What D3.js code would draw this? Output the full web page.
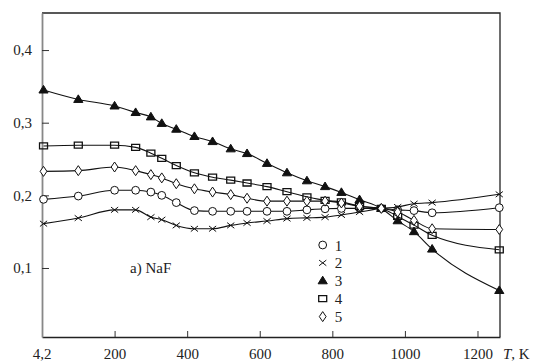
<!DOCTYPE html>
<html>
<head>
<meta charset="utf-8">
<script src="https://cdn.jsdelivr.net/npm/d3@7"></script>
<style>
  body { margin: 0; background: #fff; }
  text { font-family: "Liberation Serif", "Times New Roman", serif; fill: #222; }
</style>
</head>
<body>
<div id="chart"></div>
<script>
// temperature points (K)
const temps = [4.2, 100, 200, 258, 300, 330, 370, 420, 470, 520, 565, 620, 675, 730, 780, 825, 875, 935, 980, 1025, 1075, 1260]

// values, one array per curve
const series1 = [0.1945, 0.199, 0.207, 0.207, 0.2045, 0.200, 0.190, 0.179, 0.178, 0.178, 0.178, 0.178, 0.178, 0.180, 0.1815, 0.182, 0.182, 0.182, 0.180, 0.179, 0.176, 0.183]
const series2 = [0.161, 0.1687, 0.180, 0.180, 0.170, 0.1665, 0.1586, 0.154, 0.154, 0.1586, 0.162, 0.1646, 0.168, 0.169, 0.170, 0.173, 0.177, 0.182, 0.184, 0.1885, 0.190, 0.2014]
const series3 = [0.345, 0.332, 0.323, 0.314, 0.308, 0.299, 0.291, 0.281, 0.274, 0.264, 0.2575, 0.244, 0.231, 0.220, 0.212, 0.204, 0.194, 0.182, 0.165, 0.150, 0.126, 0.069]
const series4 = [0.268, 0.269, 0.269, 0.266, 0.258, 0.251, 0.241, 0.231, 0.225, 0.221, 0.217, 0.212, 0.205, 0.198, 0.193, 0.191, 0.185, 0.182, 0.171, 0.159, 0.145, 0.125]
const series5 = [0.233, 0.234, 0.239, 0.234, 0.2285, 0.224, 0.216, 0.209, 0.2045, 0.201, 0.196, 0.192, 0.192, 0.192, 0.192, 0.1895, 0.185, 0.182, 0.177, 0.1655, 0.154, 0.153]

const seriesNames = ["1", "2", "3", "4", "5"]
const markerTypes = ["circle", "cross", "triangle", "square", "diamond"]
const xTicks = [200, 400, 600, 800, 1000, 1200]
const yTicks = [0.1, 0.2, 0.3, 0.4]
const yTickLabels = ["0,1", "0,2", "0,3", "0,4"]

const allSeries = [series1, series2, series3, series4, series5]

/* ______________________________Set-Up______________________________ */
const W = 537, H = 363
const margin = { left: 42, top: 13, right: 37, bottom: 26 }
const width = W - margin.left - margin.right
const height = H - margin.top - margin.bottom

const x = d3.scaleLinear().domain([0, 1262]).range([0, width])
const y = d3.scaleLinear().domain([0.005, 0.451]).range([height, 0])

const svg = d3.select("#chart")
    .append("svg")
    .attr("width", W)
    .attr("height", H)
    .append("g")
    .attr("transform", "translate(" + margin.left + "," + margin.top + ")")

/* ______________________________Frame and axes______________________________ */
// top and right border
svg.append("path")
    .attr("d", "M0,0H" + width + "V" + height)
    .attr("fill", "none")
    .attr("stroke", "#222")
    .attr("stroke-width", 1.3)

// bottom axis with inward ticks
const xAxis = svg.append("g")
    .attr("transform", "translate(0," + height + ")")
    .call(d3.axisBottom(x).tickValues(xTicks).tickSize(-6).tickSizeOuter(0).tickFormat(function (d) { return d }))
xAxis.select(".domain").attr("stroke", "#222").attr("stroke-width", 1.3)
xAxis.selectAll(".tick line").attr("stroke", "#333")
xAxis.selectAll(".tick text")
    .attr("y", 11)
    .style("font-size", "15px")
    .style("font-family", "Liberation Serif, serif")
    .attr("fill", "#222")

// "4,2" label at the origin
svg.append("text")
    .attr("x", x(0))
    .attr("y", height + 22)
    .attr("text-anchor", "middle")
    .style("font-size", "15px")
    .text("4,2")

// axis title
const title = svg.append("text")
    .attr("x", width + 3)
    .attr("y", height + 22)
    .style("font-size", "15px")
title.append("tspan").style("font-style", "italic").text("T")
title.append("tspan").text(", K")

// left axis, gray, with inward ticks
const yAxis = svg.append("g")
    .call(d3.axisLeft(y).tickValues(yTicks).tickSize(-7).tickSizeOuter(0)
        .tickFormat(function (d, i) { return yTickLabels[i] }))
yAxis.select(".domain").attr("stroke", "#888").attr("stroke-width", 1.8)
yAxis.selectAll(".tick line").attr("stroke", "#333")
yAxis.selectAll(".tick text")
    .attr("x", -10)
    .style("font-size", "15px")
    .style("font-family", "Liberation Serif, serif")
    .attr("fill", "#222")

/* ______________________________Markers______________________________ */
function markerPath(type) {
    if (type === "circle") return d3.path().toString() // drawn as circle element
    if (type === "triangle") return "M0,-4.6L4.6,3L-4.6,3Z"
    if (type === "square") return "M-4,-3H4V3H-4Z"
    if (type === "diamond") return "M0,-5L3.4,0L0,5L-3.4,0Z"
    if (type === "cross") return "M-3.6,-2.8L3.6,2.8M-3.6,2.8L3.6,-2.8"
}

function drawMarker(g, type) {
    if (type === "circle") {
        g.append("circle").attr("r", 3.9)
            .attr("fill", "#fff").attr("stroke", "#111").attr("stroke-width", 1)
    } else {
        g.append("path").attr("d", markerPath(type))
            .attr("fill", type === "triangle" ? "#111" : (type === "square" ? "none" : "#fff"))
            .attr("stroke", "#111")
            .attr("stroke-width", type === "square" ? 1.3 : 1)
    }
}

/* ______________________________Curves______________________________ */
const line = d3.line()
    .x(function (d) { return x(d[0]) })
    .y(function (d) { return y(d[1]) })
    .curve(d3.curveMonotoneX)

allSeries.forEach(function (vals, s) {
    const pts = temps.map(function (t, i) { return [t, vals[i]] })

    svg.append("path")
        .datum(pts)
        .attr("fill", "none")
        .attr("stroke", "#111")
        .attr("stroke-width", 1.1)
        .attr("d", line)

    svg.append("g")
        .selectAll("g")
        .data(pts)
        .enter().append("g")
        .attr("transform", function (d) { return "translate(" + x(d[0]) + "," + y(d[1]) + ")" })
        .each(function () { drawMarker(d3.select(this), markerTypes[s]) })
})

/* ______________________________Legend and label______________________________ */
const legend = svg.append("g")
    .attr("transform", "translate(" + (322.7 - margin.left) + "," + (245 - margin.top) + ")")

seriesNames.forEach(function (name, i) {
    const row = legend.append("g").attr("transform", "translate(0," + (i * 17.9) + ")")
    const m = row.append("g")
    drawMarker(m, markerTypes[i])
    if (markerTypes[i] === "square") m.select("path").attr("fill", "#fff")
    row.append("text")
        .attr("x", 12)
        .attr("y", 5.5)
        .style("font-size", "15px")
        .text(name)
})

svg.append("text")
    .attr("x", 130 - margin.left)
    .attr("y", 273 - margin.top)
    .style("font-size", "15px")
    .text("a) NaF")
</script>
</body>
</html>
